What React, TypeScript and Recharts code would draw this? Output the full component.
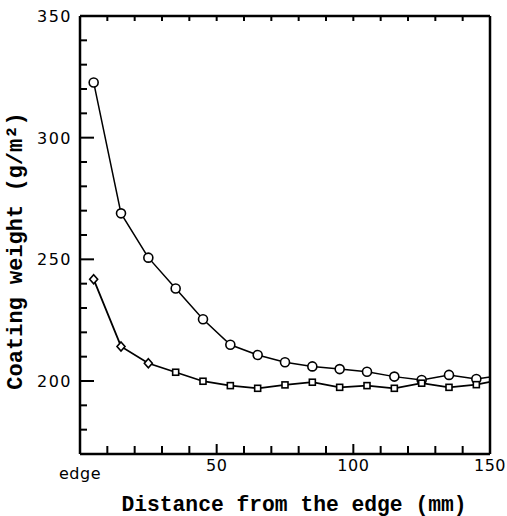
import React from 'react'
import { LineChart, Line, XAxis, YAxis, ReferenceLine } from 'recharts'

const distances = [5, 15, 25, 35, 45, 55, 65, 75, 85, 95, 105, 115, 125, 135, 145, 150]
const upperWeight = [322.7, 268.9, 250.7, 238, 225.4, 214.9, 210.7, 207.7, 206, 204.9, 203.8, 201.8, 200.4, 202.5, 200.8, 201.6]
const lowerWeight = [241.8, 214.2, 207.3, 203.6, 199.9, 198.1, 197.0, 198.4, 199.5, 197.4, 198.1, 197.0, 199.1, 197.4, 198.5, 199.6]
const lowerMarkers = ['diamond', 'diamond', 'diamond', 'square', 'square', 'square', 'square', 'square', 'square', 'square', 'square', 'square', 'square', 'square', 'square', 'none']
const upperMarkers = ['circle', 'circle', 'circle', 'circle', 'circle', 'circle', 'circle', 'circle', 'circle', 'circle', 'circle', 'circle', 'circle', 'circle', 'circle', 'none']

const xTicks = [0, 10, 20, 30, 40, 50, 60, 70, 80, 90, 100, 110, 120, 130, 140, 150]
const yTicks = [180, 190, 200, 210, 220, 230, 240, 250, 260, 270, 280, 290, 300, 310, 320, 330, 340, 350]
const xLabels: Record<number, string> = { 0: 'edge', 50: '50', 100: '100', 150: '150' }

const data = distances.map((d, i) => ({ d, upper: upperWeight[i], lower: lowerWeight[i] }))

const mono = '"Liberation Mono", "DejaVu Sans Mono", monospace'
const sans = '"DejaVu Sans", sans-serif'

const marker = (kinds: string[]) => (p: any) => {
  const { cx, cy, index } = p
  const k = kinds[index]
  if (k === 'circle') return <circle key={index} cx={cx} cy={cy} r={4.5} fill="#fff" stroke="#000" strokeWidth={1.6} />
  if (k === 'diamond')
    return <path key={index} d={`M${cx},${cy - 4.5}L${cx + 4},${cy}L${cx},${cy + 4.5}L${cx - 4},${cy}Z`} fill="#fff" stroke="#000" strokeWidth={1.6} />
  if (k === 'square') return <rect key={index} x={cx - 3} y={cy - 3} width={6} height={6} fill="#fff" stroke="#000" strokeWidth={1.6} />
  return <g key={index} />
}

const BottomTick = (p: any) => {
  const v = p.payload.value
  const major = v % 50 === 0
  return (
    <g>
      {v > 0 && v < 150 && <line x1={p.x} y1={p.y} x2={p.x} y2={p.y - (major ? 10 : 8)} stroke="#000" strokeWidth={2} />}
      {xLabels[v] && (
        <text x={p.x} y={v === 0 ? p.y + 25 : p.y + 17} textAnchor="middle" fontFamily={sans} fontSize={16} letterSpacing={0.5}>
          {xLabels[v]}
        </text>
      )}
    </g>
  )
}

const TopTick = (p: any) => {
  const v = p.payload.value
  if (v <= 0 || v >= 150) return <g />
  return <line x1={p.x} y1={p.y} x2={p.x} y2={p.y + 5} stroke="#000" strokeWidth={2} />
}

const LeftTick = (p: any) => {
  const v = p.payload.value
  const major = v % 50 === 0
  return (
    <g>
      {v < 350 && <line x1={p.x} y1={p.y} x2={p.x + (major ? 14 : 7)} y2={p.y} stroke="#000" strokeWidth={2} />}
      {major && (
        <text x={p.x - 8} y={p.y + 6} textAnchor="end" fontFamily={sans} fontSize={16} letterSpacing={1.5}>
          {v}
        </text>
      )}
    </g>
  )
}

const RightTick = (p: any) => {
  const v = p.payload.value
  if (v >= 350) return <g />
  const major = v % 50 === 0
  return <line x1={p.x} y1={p.y} x2={p.x - (major ? 12 : 5)} y2={p.y} stroke="#000" strokeWidth={2} />
}

const YTitle = (p: any) => {
  const vb = p.viewBox
  const cx = vb.x + 16
  const cy = vb.y + vb.height / 2 + 16
  return (
    <text x={cx} y={cy} transform={`rotate(-90 ${cx} ${cy})`} textAnchor="middle" dominantBaseline="central" fontFamily={mono} fontWeight="bold" fontSize={22}>
      Coating weight (g/m²)
    </text>
  )
}

const XTitle = (p: any) => {
  const vb = p.viewBox
  return (
    <text x={vb.x + vb.width / 2 + 9} y={vb.y + 57} textAnchor="middle" fontFamily={mono} fontWeight="bold" fontSize={21.3}>
      Distance from the edge (mm)
    </text>
  )
}

const frame = { stroke: '#000', strokeWidth: 2.5, ifOverflow: 'visible' as const, xAxisId: 'b', yAxisId: 'l' }

export default function App() {
  return (
    <div>
      <style>{'body{margin:0;overflow:hidden}'}</style>
      <LineChart width={507} height={516} data={data} margin={{ top: 15, right: 16, left: 0, bottom: 0 }}>
        <XAxis
          xAxisId="b"
          dataKey="d"
          type="number"
          domain={[0, 150]}
          ticks={xTicks}
          interval={0}
          height={62}
          tickSize={0}
          tickMargin={0}
          tick={<BottomTick />}
          axisLine={false}
          label={<XTitle />}
        />
        <XAxis
          xAxisId="t"
          orientation="top"
          dataKey="d"
          type="number"
          domain={[0, 150]}
          ticks={xTicks}
          interval={0}
          height={1}
          tickSize={0}
          tickMargin={0}
          tick={<TopTick />}
          axisLine={false}
        />
        <YAxis
          yAxisId="l"
          type="number"
          domain={[170, 350]}
          ticks={yTicks}
          interval={0}
          width={80}
          tickSize={0}
          tickMargin={0}
          tick={<LeftTick />}
          axisLine={false}
          label={<YTitle />}
        />
        <YAxis
          yAxisId="r"
          orientation="right"
          type="number"
          domain={[170, 350]}
          ticks={yTicks}
          interval={0}
          width={1}
          tickSize={0}
          tickMargin={0}
          tick={<RightTick />}
          axisLine={false}
        />
        <ReferenceLine x={0} {...frame} />
        <ReferenceLine x={150} {...frame} />
        <ReferenceLine y={170} {...frame} />
        <ReferenceLine y={350} {...frame} />
        <Line xAxisId="b" yAxisId="l" dataKey="upper" stroke="#000" strokeWidth={1.5} dot={marker(upperMarkers)} isAnimationActive={false} />
        <Line xAxisId="b" yAxisId="l" dataKey="lower" stroke="#000" strokeWidth={1.8} dot={marker(lowerMarkers)} isAnimationActive={false} />
      </LineChart>
    </div>
  )
}
